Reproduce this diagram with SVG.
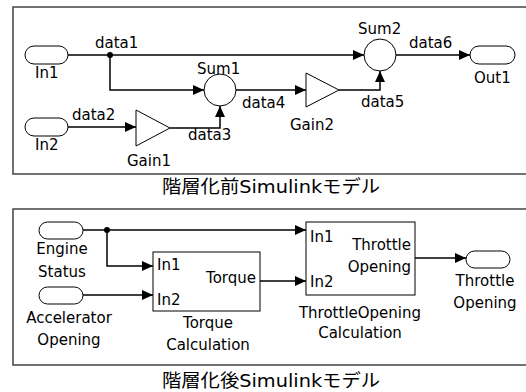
<svg xmlns="http://www.w3.org/2000/svg" width="526" height="392" viewBox="0 0 526 392">
<style>
text{font-family:"DejaVu Sans","Noto Sans CJK JP",sans-serif;font-size:15px;fill:#000}
.cap{font-size:18px}
.m{text-anchor:middle}
.e{text-anchor:end}
.blk{fill:#fff;stroke:#000;stroke-width:1}
.frame{fill:none;stroke:#444;stroke-width:1.5}
.ln{fill:none;stroke:#000;stroke-width:1.5}
</style>
<defs>
<marker id="ar" viewBox="0 0 11 10" refX="11" refY="5" markerWidth="11" markerHeight="10" markerUnits="userSpaceOnUse" orient="auto">
<path d="M0,0 L11,5 L0,10 z" fill="#000"/>
</marker>
</defs>
<rect width="526" height="392" fill="#fff"/>
<path class="frame" d="M530,7 H13 V174 H530"/>
<path class="frame" d="M530,209 H13 V365 H530"/>
<text class="cap m" x="271" y="193" textLength="218" lengthAdjust="spacingAndGlyphs">階層化前Simulinkモデル</text>
<text class="cap m" x="271" y="387" textLength="218" lengthAdjust="spacingAndGlyphs">階層化後Simulinkモデル</text>

<g id="connectors">
<path class="ln" d="M68,55 H364" marker-end="url(#ar)"/>
<path class="ln" d="M110,55 V90 H204" marker-end="url(#ar)"/>
<circle cx="110" cy="55" r="3" fill="#000"/>
<path class="ln" d="M68,127 H136" marker-end="url(#ar)"/>
<path class="ln" d="M170,128 H220 V106" marker-end="url(#ar)"/>
<path class="ln" d="M236,90 H306" marker-end="url(#ar)"/>
<path class="ln" d="M339,90 H380 V71" marker-end="url(#ar)"/>
<path class="ln" d="M396,55 H470" marker-end="url(#ar)"/>
<text x="95" y="48">data1</text>
<text x="72" y="120">data2</text>
<text x="188" y="140">data3</text>
<text x="242" y="108">data4</text>
<text x="361" y="107">data5</text>
<text x="409" y="48">data6</text>

<path class="ln" d="M83,230 H306" marker-end="url(#ar)"/>
<path class="ln" d="M107,230 V266 H153" marker-end="url(#ar)"/>
<circle cx="107" cy="230" r="3" fill="#000"/>
<path class="ln" d="M83,295 H153" marker-end="url(#ar)"/>
<path class="ln" d="M260,281 H306" marker-end="url(#ar)"/>
<path class="ln" d="M415,258 H466" marker-end="url(#ar)"/>
</g>

<g id="In1"><rect class="blk" x="25" y="46" width="43" height="18" rx="9"/><text x="35" y="78">In1</text></g>
<g id="In2"><rect class="blk" x="25" y="118" width="43" height="18" rx="9"/><text x="35" y="150">In2</text></g>
<g id="Out1"><rect class="blk" x="470" y="46" width="45" height="18" rx="9"/><text x="474" y="83">Out1</text></g>
<g id="Sum1"><circle class="blk" cx="220" cy="90" r="16"/><text x="197" y="74">Sum1</text></g>
<g id="Sum2"><circle class="blk" cx="380" cy="55" r="16"/><text x="358" y="34">Sum2</text></g>
<g id="Gain1"><polygon class="blk" points="136,110 136,146 170,128"/><text x="127" y="166">Gain1</text></g>
<g id="Gain2"><polygon class="blk" points="306,73 306,107 339,90"/><text x="290" y="130">Gain2</text></g>

<g id="EngineStatus"><rect class="blk" x="39" y="222" width="44" height="17" rx="8.5"/><text class="m" x="62" y="254">Engine</text><text class="m" x="62" y="277">Status</text></g>
<g id="AcceleratorOpening"><rect class="blk" x="39" y="287" width="44" height="17" rx="8.5"/><text class="m" x="69" y="323">Accelerator</text><text class="m" x="69" y="345">Opening</text></g>
<g id="TorqueCalculation"><rect class="blk" x="153" y="252" width="107" height="59"/><text x="157" y="270">In1</text><text x="157" y="305">In2</text><text class="e" x="256" y="283">Torque</text><text class="m" x="208" y="328">Torque</text><text class="m" x="208" y="350">Calculation</text></g>
<g id="ThrottleOpeningCalculation"><rect class="blk" x="306" y="222" width="109" height="73"/><text x="310" y="242">In1</text><text x="310" y="287">In2</text><text class="e" x="411" y="250">Throttle</text><text class="e" x="411" y="272">Opening</text><text class="m" x="360" y="318">ThrottleOpening</text><text class="m" x="360" y="338">Calculation</text></g>
<g id="ThrottleOpening"><rect class="blk" x="466" y="251" width="44" height="17" rx="8.5"/><text class="m" x="485" y="286">Throttle</text><text class="m" x="485" y="308">Opening</text></g>
</svg>
